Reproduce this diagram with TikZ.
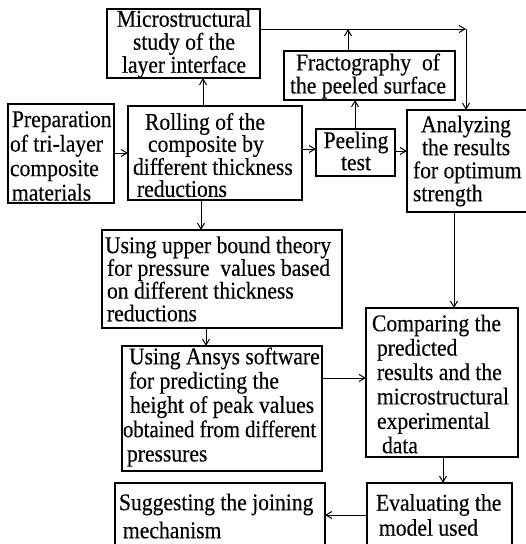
\documentclass[tikz,border=0pt]{standalone}
\usepackage{fontspec}
\setmainfont{Liberation Serif}[FakeStretch=0.9,FakeBold=0.3]
\usetikzlibrary{arrows.meta}
\tikzset{
  box/.style={draw, line width=1.1pt, inner sep=0pt, outer sep=0pt},
  txt/.style={inner sep=0pt, outer sep=0pt, align=left, anchor=west, font=\fontsize{24pt}{#1}\selectfont},
  txt/.default=24pt,
  ctxt/.style={inner sep=0pt, outer sep=0pt, align=center, font=\fontsize{24pt}{#1}\selectfont},
  ctxt/.default=23pt,
  arr/.style={line width=1pt, -{Straight Barb[length=6pt,width=7pt]}}
}
\begin{document}
\begin{tikzpicture}[x=1pt,y=-1pt]
\useasboundingbox[fill=white] (0,0) rectangle (526,544);
% boxes
\node[box, minimum width=153pt, minimum height=69pt] (mic) at (183.5,43.5) {};
\node[box, minimum width=171pt, minimum height=49pt] (frac) at (369.5,75.5) {};
\node[box, minimum width=106pt, minimum height=99pt] (prep) at (61,153.5) {};
\node[box, minimum width=174pt, minimum height=94pt] (roll) at (215,153) {};
\node[box, minimum width=79pt, minimum height=47pt] (peel) at (355.5,152.5) {};
\node[box, minimum width=135pt, minimum height=102pt] (anal) at (474.5,161) {};
\node[box, minimum width=240pt, minimum height=98pt] (upper) at (222,279) {};
\node[box, minimum width=200pt, minimum height=125pt] (ansys) at (222,408.5) {};
\node[box, minimum width=152pt, minimum height=149pt] (comp) at (442,382.5) {};
\node[box, minimum width=145pt, minimum height=66pt] (eval) at (439.5,516) {};
\node[box, minimum width=210pt, minimum height=66pt] (sugg) at (220,516) {};
% texts
\node[ctxt] (micT) at (184,44) {Microstructural\\study of the\\layer interface};
\node[ctxt=21pt] (fracT) at (368,76) {Fractography\ \ of\\the peeled surface};
\node[txt=24.5pt] (prepT) at (10,156) {\hspace*{2pt}Preparation\\of tri-layer\\composite\\\hspace*{2pt}materials};
\node[txt=22pt] (rollT) at (133,155) {\hspace*{12pt}Rolling of the\\\hspace*{15pt}composite by\\different thickness\\\hspace*{4pt}reductions};
\node[ctxt=22pt] (peelT) at (356,151) {Peeling\\test};
\node[txt=23pt] (analT) at (413,161) {\hspace*{8pt}Analyzing\\\hspace*{9pt}the results\\for optimum\\strength};
\node[txt=22.7pt] (upperT) at (105,279) {Using upper bound theory\\\hspace*{2pt}for pressure\ \ values based\\\hspace*{2pt}on different thickness\\\hspace*{2pt}reductions};
\node[txt=24.3pt] (ansysT) at (123,407) {\hspace*{6pt}Using Ansys software\\\hspace*{6pt}for predicting the\\\hspace*{7pt}height of peak values\\\scalebox{0.96}[1]{obtained from different}\\\hspace*{4pt}pressures};
\node[txt=24.4pt] (compT) at (372,384) {Comparing the\\\hspace*{5pt}predicted\\\hspace*{5pt}results and the\\\hspace*{5pt}microstructural\\\hspace*{5pt}experimental\\\hspace*{10pt}data};
\node[txt=25pt] (evalT) at (376,515) {Evaluating the\\\hspace*{3pt}model used};
\node[txt=28pt] (suggT) at (119,516) {Suggesting the joining\\\hspace*{4pt}mechanism};
% connectors
\coordinate (corner) at (466,29);
\draw[arr] (prep.east |- 0,153) -- (roll.west |- 0,153);
\draw[arr] (roll.north -| 203,0) -- (mic.south -| 203,0);
\draw[arr] (roll.east |- 0,149) -- (peel.west |- 0,149);
\draw[arr] (peel.north -| 355,0) -- (frac.south -| 355,0);
\draw[arr] (frac.north -| 348,0) -- (348,29);
\draw[arr] (mic.east |- corner) -- (corner);
\draw[arr] (corner) -- (anal.north -| corner);
\draw[arr] (peel.east |- 0,151) -- (anal.west |- 0,151);
\draw[arr] (roll.south -| 201,0) -- (upper.north -| 201,0);
\draw[arr] (upper.south -| 206,0) -- (ansys.north -| 206,0);
\draw[arr] (anal.south -| 454,0) -- (comp.north -| 454,0);
\draw[arr] (ansys.east |- 0,378) -- (comp.west |- 0,378);
\draw[arr] (comp.south -| 443,0) -- (eval.north -| 443,0);
\draw[arr] (eval.west |- 0,515) -- (sugg.east |- 0,515);
\end{tikzpicture}
\end{document}
